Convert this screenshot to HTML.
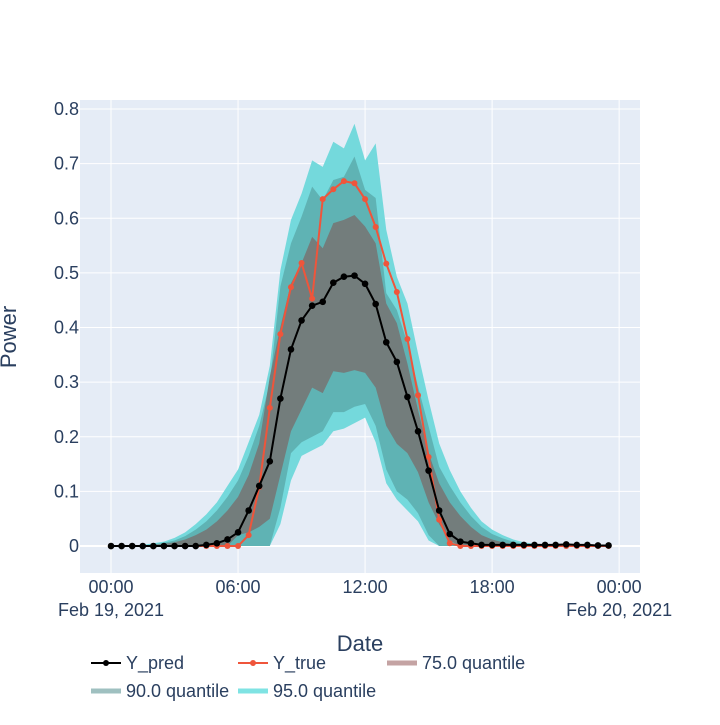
<!DOCTYPE html>
<html><head><meta charset="utf-8"><style>
body{margin:0;background:#fff;}
svg{font-family:"Liberation Sans",Arial,sans-serif;}
</style></head><body>
<svg id="chart" width="720" height="720" xmlns="http://www.w3.org/2000/svg">
<rect x="0" y="0" width="720" height="720" fill="#fff"/>
<rect x="80" y="100" width="560" height="473" fill="#e5ecf6"/>
<g id="grid"></g>
<g id="bands"></g>
<g id="series"></g>
<g id="axes"></g>
<text x="16" y="337" transform="rotate(-90 16 337)" text-anchor="middle" font-size="22" fill="#2a3f5f">Power</text>
<text x="360" y="651" text-anchor="middle" font-size="22" fill="#2a3f5f">Date</text>
<g id="legend"></g>
</svg>
<script>
const NS="http://www.w3.org/2000/svg";
const yPred=[0,0,0,0,0,0,0,0,0,0.002,0.005,0.012,0.025,0.065,0.11,0.155,0.27,0.36,0.413,0.44,0.447,0.482,0.493,0.495,0.48,0.443,0.373,0.337,0.273,0.21,0.138,0.065,0.022,0.008,0.005,0.002,0.002,0.002,0.002,0.002,0.002,0.002,0.002,0.003,0.002,0.002,0.001,0.001];
const yTrue=[0,0,0,0,0,0,0,0,0,0,0,0,0,0.02,0.108,0.253,0.388,0.474,0.518,0.453,0.635,0.653,0.668,0.664,0.635,0.584,0.517,0.465,0.379,0.276,0.163,0.048,0.005,0,0,0,0,0,0,0,0,0,0,0,0,0,0,0];
const up95=[0,0,0,0.002,0.005,0.008,0.015,0.025,0.04,0.058,0.08,0.11,0.14,0.19,0.24,0.33,0.505,0.597,0.645,0.706,0.694,0.74,0.728,0.773,0.706,0.737,0.579,0.493,0.444,0.353,0.267,0.188,0.139,0.1,0.07,0.045,0.03,0.02,0.012,0.007,0.004,0.002,0.002,0.002,0.002,0.002,0.002,0.002];
const up90=[0,0,0,0.001,0.003,0.006,0.01,0.018,0.03,0.045,0.065,0.09,0.12,0.165,0.22,0.3,0.475,0.554,0.603,0.658,0.633,0.67,0.676,0.713,0.652,0.637,0.463,0.432,0.371,0.292,0.219,0.145,0.11,0.08,0.055,0.035,0.022,0.014,0.008,0.004,0.002,0,0,0,0,0,0,0];
const up75=[0,0,0,0,0.002,0.004,0.007,0.012,0.02,0.03,0.045,0.065,0.09,0.13,0.188,0.31,0.401,0.481,0.518,0.566,0.545,0.591,0.597,0.606,0.585,0.554,0.444,0.408,0.334,0.249,0.17,0.115,0.08,0.055,0.035,0.02,0.012,0.007,0.003,0,0,0,0,0,0,0,0,0];
const lo75=[0,0,0,0,0,0,0,0,0,0,0,0,0.02,0.025,0.035,0.05,0.13,0.21,0.25,0.29,0.28,0.32,0.317,0.322,0.317,0.29,0.22,0.187,0.17,0.135,0.08,0.04,0.01,0,0,0,0,0,0,0,0,0,0,0,0,0,0,0];
const lo90=[0,0,0,0,0,0,0,0,0,0,0,0,0,0,0,0,0.07,0.17,0.19,0.2,0.21,0.245,0.245,0.255,0.26,0.22,0.14,0.1,0.085,0.06,0.02,0,0,0,0,0,0,0,0,0,0,0,0,0,0,0,0,0];
const lo95=[0,0,0,0,0,0,0,0,0,0,0,0,0,0,0,0,0.04,0.12,0.165,0.175,0.185,0.21,0.215,0.225,0.235,0.19,0.115,0.085,0.065,0.045,0.01,0,0,0,0,0,0,0,0,0,0,0,0,0,0,0,0,0];
const yTicks=[0,0.1,0.2,0.3,0.4,0.5,0.6,0.7,0.8];
const yTickLabels=["0","0.1","0.2","0.3","0.4","0.5","0.6","0.7","0.8"];
const xTicksHalfHours=[0,12,24,36,48];
const xTickLabels=["00:00","06:00","12:00","18:00","00:00"];
const xTickDates=["Feb 19, 2021","","","","Feb 20, 2021"];

const X0=80,X1=640,Y0=100,Y1=573;
const xMin=-2.93,xMax=49.97,yMin=-0.0494,yMax=0.8165;
const sx=v=>X0+(v-xMin)/(xMax-xMin)*(X1-X0);
const sy=v=>Y1-(v-yMin)/(yMax-yMin)*(Y1-Y0);
function mk(tag,attrs,parent){const e=document.createElementNS(NS,tag);for(const k in attrs)e.setAttribute(k,attrs[k]);parent.appendChild(e);return e;}
const grid=document.getElementById('grid'),bands=document.getElementById('bands'),series=document.getElementById('series'),axes=document.getElementById('axes'),legend=document.getElementById('legend');

yTicks.forEach((t,i)=>{
  const l=mk('line',{x1:X0,x2:X1,y1:sy(t),y2:sy(t),stroke:'#fff','stroke-width':t===0?2:1},grid);
  
  
  const tx=mk('text',{x:X0-1,y:sy(t)+6,'text-anchor':'end','font-size':18,fill:'#2a3f5f'},axes);
  tx.textContent=yTickLabels[i];
  
  
});
xTicksHalfHours.forEach((t,i)=>{
  const l=mk('line',{x1:sx(t),x2:sx(t),y1:Y0,y2:Y1,stroke:'#fff','stroke-width':1},grid);
  
  
  const tx=mk('text',{x:sx(t),y:593,'text-anchor':'middle','font-size':18,fill:'#2a3f5f'},axes);
  tx.textContent=xTickLabels[i];
  
  
  if(xTickDates[i]){
    const d=mk('text',{x:sx(t),y:616,'text-anchor':'middle','font-size':18,fill:'#2a3f5f'},axes);
    d.textContent=xTickDates[i];
    
    
  }
});
function band(up,lo,fill,name){
  let pts=up.map((v,i)=>sx(i)+','+sy(v));
  for(let i=lo.length-1;i>=0;i--)pts.push(sx(i)+','+sy(lo[i]));
  const p=mk('polygon',{points:pts.join(' '),fill:fill},bands);
  
  
}
band(up95,lo95,'#74d9dc','band-95-quantile');
band(up90,lo90,'#5fb3b4','band-90-quantile');
band(up75,lo75,'#737d7c','band-75-quantile');

function line(vals,color,r,name){
  const g=mk('g',{},series);
  
  
  mk('polyline',{points:vals.map((v,i)=>sx(i)+','+sy(v)).join(' '),fill:'none',stroke:color,'stroke-width':2},g);
  vals.forEach((v,i)=>{
    const c=mk('circle',{cx:sx(i),cy:sy(v),r:r,fill:color},g);
    
    
  });
}
line(yTrue,'#ef553b',3,'y-true-series');
line(yPred,'#000000',3.3,'y-pred-series');

const legItems=[
  {x:91,y:663,label:'Y_pred',color:'#000',marker:true,w:2,name:'legend-y-pred'},
  {x:238,y:663,label:'Y_true',color:'#ef553b',marker:true,w:2,name:'legend-y-true'},
  {x:387,y:663,label:'75.0 quantile',color:'#c4a3a3',marker:false,w:5,name:'legend-75-quantile'},
  {x:91,y:691,label:'90.0 quantile',color:'#9fc0c0',marker:false,w:5,name:'legend-90-quantile'},
  {x:238,y:691,label:'95.0 quantile',color:'#7fe3e3',marker:false,w:5,name:'legend-95-quantile'}
];
legItems.forEach(it=>{
  const g=mk('g',{},legend);
  
  
  mk('line',{x1:it.x,x2:it.x+30,y1:it.y,y2:it.y,stroke:it.color,'stroke-width':it.w},g);
  if(it.marker)mk('circle',{cx:it.x+15,cy:it.y,r:3,fill:it.color},g);
  const t=mk('text',{x:it.x+35,y:it.y+6,'font-size':18,fill:'#2a3f5f'},g);
  t.textContent=it.label;
});
</script>
</body></html>
